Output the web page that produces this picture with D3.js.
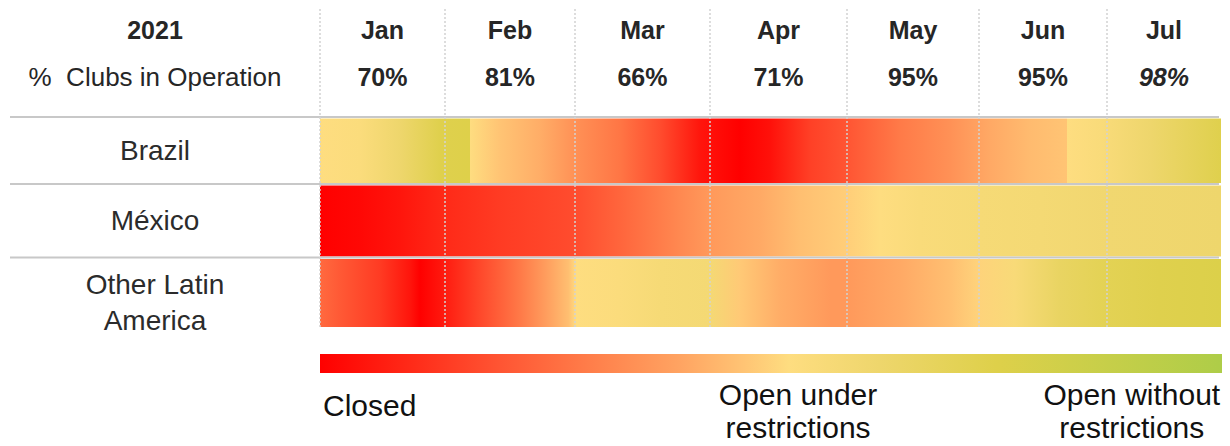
<!DOCTYPE html>
<html>
<head>
<meta charset="utf-8">
<script src="https://cdn.jsdelivr.net/npm/d3@7"></script>
<style>
  html, body { margin: 0; padding: 0; background: #fff; }
  svg { display: block; font-family: "Liberation Sans", Arial, sans-serif; }
</style>
</head>
<body>
<svg id="chart" width="1230" height="446"></svg>
<script>
// ---- data ---------------------------------------------------------------
const year = "2021";
const headerLabel = "%  Clubs in Operation";
const months = ["Jan", "Feb", "Mar", "Apr", "May", "Jun", "Jul"];
const clubsInOperation = [70, 81, 66, 71, 95, 95, 98];
const projected = [false, false, false, false, false, false, true];

const regions = ["Brazil", "México", "Other Latin America"];
const regionLines = [["Brazil"], ["México"], ["Other Latin", "America"]];

// Operating status through the year: [months since 1 Jan, status]
// status 0 = closed, 0.52 = open under restrictions, 1 = open without restrictions
const brazilStatus = [
  [0, 0.52], [0.32, 0.54], [0.64, 0.62], [0.96, 0.74], [1.19, 0.75],
  [1.19, 0.52], [1.42, 0.47], [1.73, 0.42], [2, 0.35], [2.33, 0.28],
  [2.63, 0.18], [2.93, 0.05], [3.22, 0], [3.44, 0.04], [3.73, 0.15],
  [4, 0.2], [4.4, 0.29], [4.78, 0.35], [5.09, 0.41], [5.4, 0.45],
  [5.69, 0.47], [5.69, 0.52], [5.95, 0.55], [6.38, 0.62], [7, 0.74]
];
const mexicoStatus = [
  [0, 0], [0.32, 0.02], [0.64, 0.05], [1, 0.1], [1.42, 0.14],
  [2, 0.18], [2.33, 0.24], [2.78, 0.33], [3, 0.37], [3.36, 0.41],
  [3.66, 0.46], [4, 0.49], [4.25, 0.52], [4.55, 0.55], [5, 0.57],
  [5.48, 0.58], [6, 0.6], [7, 0.62]
];
const otherLatamStatus = [
  [0, 0.25], [0.16, 0.21], [0.48, 0.14], [0.72, 0.05], [0.8, 0],
  [0.96, 0.05], [1.27, 0.17], [1.58, 0.29], [1.77, 0.38], [1.95, 0.46],
  [2.01, 0.52], [2.33, 0.54], [2.63, 0.57], [3, 0.58], [3.22, 0.48],
  [3.51, 0.42], [3.88, 0.37], [4, 0.37], [4.4, 0.41], [4.78, 0.46],
  [5, 0.5], [5.28, 0.56], [5.63, 0.66], [6, 0.71], [6.46, 0.74], [7, 0.76]
];
const statusSeries = [brazilStatus, mexicoStatus, otherLatamStatus];

const legendLabels = [["Closed"], ["Open under", "restrictions"], ["Open without", "restrictions"]];
const legendAt = [0, 0.53, 0.9];

// ---- layout -------------------------------------------------------------
const svg = d3.select("#chart");
const monthEdges = [320, 445, 575, 710, 847, 979, 1107, 1221];
const rowEdges = [117, 184, 257.5, 327];
const x = d3.scaleLinear().domain(d3.range(months.length + 1)).range(monthEdges);
const yTop = d3.scaleOrdinal().domain(regions).range(rowEdges.slice(0, 3));
const yBottom = d3.scaleOrdinal().domain(regions).range(rowEdges.slice(1));

// colour ramp for operating status
const colorStops = [0, 0.1, 0.2, 0.3, 0.4, 0.47, 0.52, 0.62, 0.75, 1];
const colorRange = ["#ff0000", "#ff2a18", "#ff5533", "#ff7e4a", "#ffa462",
                    "#ffc474", "#fedd80", "#eed66c", "#ded04a", "#aecd48"];
const color = d3.scaleLinear().domain(colorStops).range(colorRange).interpolate(d3.interpolateRgb);

const textColor = "#262626";
const defs = svg.append("defs");

// ---- header -------------------------------------------------------------
svg.append("text").attr("x", 155).attr("y", 39).attr("text-anchor", "middle")
  .attr("font-size", 25).attr("font-weight", "bold").attr("fill", textColor).text(year);
svg.append("text").attr("x", 155).attr("y", 86).attr("text-anchor", "middle")
  .attr("font-size", 26).attr("fill", textColor).style("white-space", "pre").text(headerLabel);

const mid = i => (x(i) + x(i + 1)) / 2;
svg.append("g").selectAll("text").data(months).join("text")
  .attr("x", (d, i) => mid(i)).attr("y", 39).attr("text-anchor", "middle")
  .attr("font-size", 25).attr("font-weight", "bold").attr("fill", textColor).text(d => d);
svg.append("g").selectAll("text").data(clubsInOperation).join("text")
  .attr("x", (d, i) => mid(i)).attr("y", 86).attr("text-anchor", "middle")
  .attr("font-size", 25).attr("font-weight", "bold")
  .attr("font-style", (d, i) => projected[i] ? "italic" : "normal")
  .attr("fill", textColor).text(d => d + "%");

// ---- status bands ---------------------------------------------------------
regions.forEach((r, i) => {
  const g = defs.append("linearGradient").attr("id", "grad" + i)
    .attr("gradientUnits", "userSpaceOnUse")
    .attr("x1", x(0)).attr("x2", x(months.length)).attr("y1", 0).attr("y2", 0);
  const span = x(months.length) - x(0);
  g.selectAll("stop").data(statusSeries[i]).join("stop")
    .attr("offset", d => (x(d[0]) - x(0)) / span)
    .attr("stop-color", d => color(d[1]));
});

svg.append("g").selectAll("rect").data(regions).join("rect")
  .attr("x", x(0)).attr("width", x(months.length) - x(0))
  .attr("y", d => yTop(d) + 1.5)
  .attr("height", (d, i) => yBottom(d) - yTop(d) - (i === regions.length - 1 ? 1.5 : 2.5))
  .attr("fill", (d, i) => `url(#grad${i})`);

// row separators
svg.append("g").selectAll("line").data(regions).join("line")
  .attr("x1", 10).attr("x2", 1219)
  .attr("y1", d => yTop(d)).attr("y2", d => yTop(d))
  .attr("stroke", "#c8c8c8").attr("stroke-width", 2);

// row labels
regions.forEach((r, i) => {
  const lines = regionLines[i];
  const cy = (yTop(r) + yBottom(r)) / 2;
  const lh = 36;
  const first = lines.length === 1 ? cy + 9 : cy + 2;
  svg.append("text").attr("text-anchor", "middle").attr("font-size", 28).attr("fill", "#2b2b2b")
    .selectAll("tspan").data(lines).join("tspan")
    .attr("x", 155)
    .attr("y", (d, k) => first + k * lh)
    .text(d => d);
});

// month dividers
svg.append("g").selectAll("line").data(months).join("line")
  .attr("x1", (d, i) => x(i)).attr("x2", (d, i) => x(i))
  .attr("y1", 9).attr("y2", 327)
  .attr("stroke", "#d2d2d2").attr("stroke-width", 1.5).attr("stroke-dasharray", "2,2");

// ---- legend ---------------------------------------------------------------
const lx = d3.scaleLinear().domain([0, 1]).range([320, 1222]);
const lg = defs.append("linearGradient").attr("id", "legendGrad");
lg.selectAll("stop").data(colorStops).join("stop")
  .attr("offset", d => d).attr("stop-color", d => color(d));
svg.append("rect").attr("x", lx(0)).attr("y", 354).attr("width", lx(1) - lx(0)).attr("height", 19)
  .attr("fill", "url(#legendGrad)");

legendLabels.forEach((lines, i) => {
  const anchor = i === 0 ? "start" : "middle";
  const tx = i === 0 ? lx(legendAt[i]) + 3 : lx(legendAt[i]);
  const base = lines.length === 1 ? 416 : 405;
  svg.append("text").attr("text-anchor", anchor).attr("font-size", 30).attr("fill", "#111")
    .selectAll("tspan").data(lines).join("tspan")
    .attr("x", tx).attr("y", (d, k) => base + k * 33).text(d => d);
});
</script>
</body>
</html>
